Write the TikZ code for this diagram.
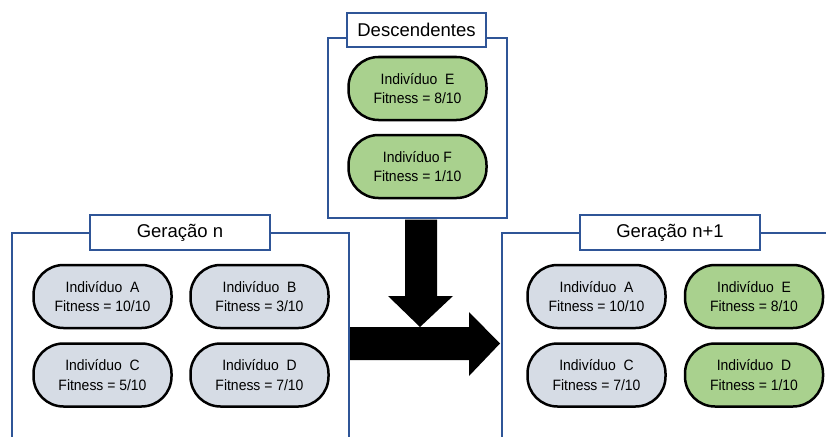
\documentclass[tikz,border=0pt]{standalone}
\usepackage{fontspec}
\setmainfont{Liberation Sans}
\newfontfamily\pillfont[FakeStretch=0.93]{Liberation Sans}
\definecolor{frameblue}{HTML}{2F5597}
\definecolor{pillgrey}{HTML}{D6DCE5}
\definecolor{pillgreen}{HTML}{A9D18E}
\tikzset{
  frame/.style={draw=frameblue, line width=2.8pt},
  titlebox/.style={draw=frameblue, line width=2.8pt, fill=white, font=\fontsize{18.5}{20}\selectfont, inner sep=0pt},
  pill/.style={draw=black, line width=2.5pt, rounded corners=30pt, minimum width=138pt, minimum height=63pt, align=center, font=\pillfont\fontsize{15}{19.5}\selectfont, inner sep=0pt},
  oldpill/.style={pill, fill=pillgrey},
  newpill/.style={pill, fill=pillgreen},
  bigarrow/.style={fill=black}
}
\begin{document}
\begin{tikzpicture}[x=1pt,y=-1pt]
\useasboundingbox (0,0) rectangle (826,436);
\clip (0,0) rectangle (826,436);
\fill[white] (0,0) rectangle (826,436);
% frames
\draw[frame] (328,38) rectangle (507,218);
\draw[frame] (12,233) rectangle (349,460);
\draw[frame] (502,233) rectangle (860,460);
% title boxes
\node[titlebox, minimum width=139pt, minimum height=34pt] (tdesc) at (416.5,30) {Descendentes};
\node[titlebox, minimum width=180pt, minimum height=35pt] (tn) at (180,232.5) {Geração n};
\node[titlebox, minimum width=180pt, minimum height=35pt] (tn1) at (670,232.5) {Geração n+1};
% descendentes
\node[newpill] (dE) at (417.5,88.5) {Indivíduo~~E\\Fitness = 8/10};
\node[newpill] (dF) at (417.5,166.5) {Indivíduo F\\Fitness = 1/10};
% geracao n
\node[oldpill] (nA) at (102.5,296.5) {Indivíduo~~A\\Fitness = 10/10};
\node[oldpill] (nB) at (259.5,296.5) {Indivíduo~~B\\Fitness = 3/10};
\node[oldpill] (nC) at (102.5,375) {Indivíduo~~C\\Fitness = 5/10};
\node[oldpill] (nD) at (259.5,375) {Indivíduo~~D\\Fitness = 7/10};
% geracao n+1
\node[oldpill] (mA) at (596.5,296.5) {Indivíduo~~A\\Fitness = 10/10};
\node[newpill] (mE) at (754,296.5) {Indivíduo~~E\\Fitness = 8/10};
\node[oldpill] (mC) at (596.5,375) {Indivíduo~~C\\Fitness = 7/10};
\node[newpill] (mD) at (754,375) {Indivíduo~~D\\Fitness = 1/10};
% arrows
\fill[bigarrow] (405,219.5) -- (437,219.5) -- (437,296) -- (453,296) -- (420,327) -- (388,296) -- (405,296) -- cycle;
\fill[bigarrow] (350,327) -- (469,327) -- (469,312) -- (500,343.5) -- (469,376) -- (469,360) -- (350,360) -- cycle;
\end{tikzpicture}
\end{document}
